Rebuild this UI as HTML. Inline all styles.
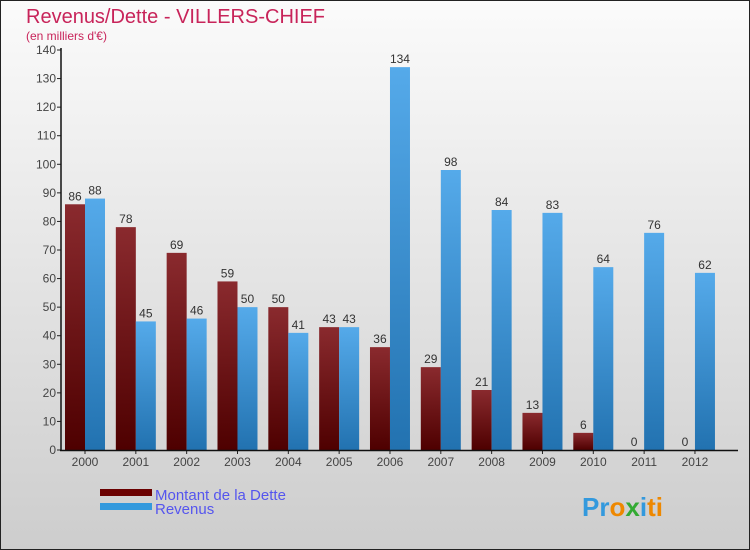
<!DOCTYPE html>
<html><head><meta charset="utf-8"><style>
body{margin:0}
#c{width:750px;height:550px;position:relative;overflow:hidden}
svg text{font-family:"Liberation Sans",sans-serif}
</style></head><body>
<div id="c">
<svg id="s" width="750" height="550" xmlns="http://www.w3.org/2000/svg">
<defs>
<linearGradient id="bg" x1="0" y1="0" x2="0" y2="1"><stop offset="0" stop-color="#fbfbfb"/><stop offset="1" stop-color="#cdcdcd"/></linearGradient>
<linearGradient id="gd" x1="0" y1="0" x2="0" y2="1"><stop offset="0" stop-color="#8a2a2e"/><stop offset="1" stop-color="#4e0000"/></linearGradient>
<linearGradient id="gr" x1="0" y1="0" x2="0" y2="1"><stop offset="0" stop-color="#55aaea"/><stop offset="1" stop-color="#2272b0"/></linearGradient>
</defs>
<rect x="0.5" y="0.5" width="749" height="549" fill="url(#bg)" stroke="#222"/>
<text x="26" y="23" font-size="20" fill="#c8245a">Revenus/Dette - VILLERS-CHIEF</text>
<text x="26" y="40" font-size="12" fill="#c8245a">(en milliers d'€)</text>
<g id="g"></g>
<rect x="100" y="489" width="52" height="7" fill="#6a0000"/>
<rect x="100" y="503" width="52" height="7" fill="#3399dd"/>
<text x="155" y="500" font-size="15" fill="#5555ee">Montant de la Dette</text>
<text x="155" y="514" font-size="15" fill="#5555ee">Revenus</text>
<text x="582" y="516" font-size="26" font-weight="bold"><tspan fill="#3399dd">Pr</tspan><tspan fill="#ee8800">o</tspan><tspan fill="#33aa33">x</tspan><tspan fill="#3399dd">i</tspan><tspan fill="#ee8800">ti</tspan></text>
</svg>
</div>
<script>
const years=["2000","2001","2002","2003","2004","2005","2006","2007","2008","2009","2010","2011","2012"];
const dette=[86,78,69,59,50,43,36,29,21,13,6,0,0];
const revenus=[88,45,46,50,41,43,134,98,84,83,64,76,62];
const yTicks=[0,10,20,30,40,50,60,70,80,90,100,110,120,130,140];
const NS="http://www.w3.org/2000/svg";
const g=document.getElementById('g');
const y0=450,y1=50,vmax=140;
const Y=v=>y0-(v/vmax)*(y0-y1);
const X=i=>85+i*50.83;
function mk(t,a){const e=document.createElementNS(NS,t);for(const k in a)e.setAttribute(k,a[k]);g.appendChild(e);return e;}
yTicks.forEach(v=>{
 const l=mk('line',{x1:57,x2:61,y1:Y(v),y2:Y(v),stroke:'#222'});
 
 
 const t=mk('text',{x:56,y:Y(v)+4,'font-size':12,fill:'#444','text-anchor':'end'});
 t.textContent=v;
 
 
});
years.forEach((yr,i)=>{
 const cx=X(i);
 const d=mk('rect',{x:cx-20,y:Y(dette[i]),width:20,height:y0-Y(dette[i]),fill:'url(#gd)'});
 
 
 const r=mk('rect',{x:cx,y:Y(revenus[i]),width:20,height:y0-Y(revenus[i]),fill:'url(#gr)'});
 
 
 const td=mk('text',{x:cx-10,y:Y(dette[i])-4,'font-size':12,fill:'#333','text-anchor':'middle'});
 td.textContent=dette[i];
 
 
 const tr=mk('text',{x:cx+10,y:Y(revenus[i])-4,'font-size':12,fill:'#333','text-anchor':'middle'});
 tr.textContent=revenus[i];
 
 
 const tk=mk('line',{x1:cx,x2:cx,y1:450,y2:454,stroke:'#222'});
 
 
 const xl=mk('text',{x:cx,y:466,'font-size':12,fill:'#444','text-anchor':'middle'});
 xl.textContent=yr;
 
 
});
const ya=mk('line',{x1:61,x2:61,y1:48,y2:451,stroke:'#111','stroke-width':1.5});


const xa=mk('line',{x1:60,x2:738,y1:450.5,y2:450.5,stroke:'#111','stroke-width':1.5});


</script>
</body></html>
